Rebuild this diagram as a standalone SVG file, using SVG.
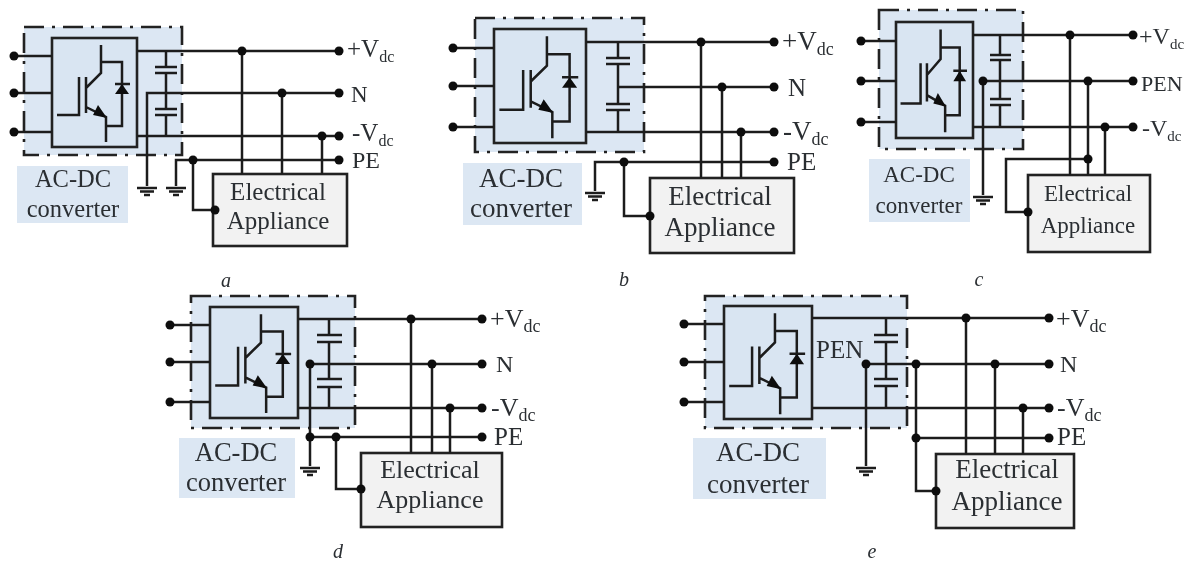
<svg xmlns="http://www.w3.org/2000/svg" width="1190" height="563" viewBox="0 0 1190 563">
<style>
text{font-family:"Liberation Serif","Times New Roman",serif;fill:#2b2f33}
.frame{fill:#dce7f3;stroke:#222;stroke-width:2.6;stroke-dasharray:20 8 3 8}
.igbtbox{fill:#d9e5f2;stroke:#222;stroke-width:2.6}
.lbl{fill:#dce7f3}
.app{fill:#f2f2f2;stroke:#222;stroke-width:2.6}
.w{fill:none;stroke:#1c1c1c;stroke-width:2.5}
.d{fill:#111}
.g{fill:none;stroke:#1c1c1c;stroke-width:2.5;vector-effect:non-scaling-stroke}
.f{fill:#111}
.c{text-anchor:middle}
.cap{font-style:italic;font-size:20px;text-anchor:middle}
</style>
<defs>
<filter id="soft" x="-2%" y="-2%" width="104%" height="104%"><feGaussianBlur stdDeviation="0.45"/></filter>
<g id="igbt">
<path class="g" d="M49 7V35L34 50M49 24H70V88H54M34 69L54 79V104M5 77H27V39M34 39V75M63 46H78"/>
<path class="f" d="M55 80L41 77L46 67ZM70 46L63 56H77Z"/>
</g>
<g id="gnd">
<path class="g" d="M-10 0H10M-7 3.5H7M-3 7H3"/>
</g>
</defs>
<g filter="url(#soft)">
<g id="panel-a-nodes">
<g id="a-converter"><rect class="frame" x="24" y="27" width="158" height="128"/><rect class="igbtbox" x="52" y="38" width="85" height="109"/><use href="#igbt" transform="translate(52,38)"/></g>
<g id="a-label"><rect class="lbl" x="17" y="166" width="111" height="57"/><text class="c" x="73" y="187" font-size="24.5">AC-DC</text><text class="c" x="73" y="217" font-size="24.5">converter</text></g>
<g id="a-appliance"><rect class="app" x="213" y="174" width="134" height="72"/><text class="c" x="278" y="200" font-size="25">Electrical</text><text class="c" x="278" y="229" font-size="25">Appliance</text></g>
<g id="a-vp"><text x="347" y="57" font-size="25">+V<tspan dy="5" font-size="16">dc</tspan></text></g>
<g id="a-n"><text x="351" y="102" font-size="23">N</text></g>
<g id="a-vn"><text x="352" y="141" font-size="25">-V<tspan dy="5" font-size="16">dc</tspan></text></g>
<g id="a-pe"><text x="352" y="168" font-size="24">PE</text></g>
<g id="a-caption"><text class="cap" x="226" y="287">a</text></g>
</g>
<g id="panel-b-nodes">
<g id="b-converter"><rect class="frame" x="475" y="18" width="169" height="134"/><rect class="igbtbox" x="494" y="29" width="92" height="114"/><use href="#igbt" transform="translate(494,29) scale(1.08,1.05)"/></g>
<g id="b-label"><rect class="lbl" x="463" y="163" width="119" height="62"/><text class="c" x="521" y="187" font-size="27">AC-DC</text><text class="c" x="521" y="217" font-size="27">converter</text></g>
<g id="b-appliance"><rect class="app" x="650" y="178" width="144" height="75"/><text class="c" x="720" y="205" font-size="27">Electrical</text><text class="c" x="720" y="236" font-size="27">Appliance</text></g>
<g id="b-vp"><text x="782" y="50" font-size="27">+V<tspan dy="5" font-size="18">dc</tspan></text></g>
<g id="b-n"><text x="788" y="96" font-size="25">N</text></g>
<g id="b-vn"><text x="783" y="140" font-size="27">-V<tspan dy="5" font-size="18">dc</tspan></text></g>
<g id="b-pe"><text x="787" y="170" font-size="25">PE</text></g>
<g id="b-caption"><text class="cap" x="624" y="286">b</text></g>
</g>
<g id="panel-c-nodes">
<g id="c-converter"><rect class="frame" x="879" y="10" width="144" height="139"/><rect class="igbtbox" x="896" y="22" width="77" height="116"/><use href="#igbt" transform="translate(896,22) scale(0.91,1.06)"/></g>
<g id="c-label"><rect class="lbl" x="869" y="159" width="101" height="63"/><text class="c" x="919" y="182" font-size="23">AC-DC</text><text class="c" x="919" y="213" font-size="23">converter</text></g>
<g id="c-appliance"><rect class="app" x="1028" y="175" width="122" height="77"/><text class="c" x="1088" y="201" font-size="23">Electrical</text><text class="c" x="1088" y="233" font-size="23">Appliance</text></g>
<g id="c-vp"><text x="1139" y="44" font-size="24">+V<tspan dy="5" font-size="15">dc</tspan></text></g>
<g id="c-pen"><text x="1141" y="91" font-size="22">PEN</text></g>
<g id="c-vn"><text x="1142" y="136" font-size="24">-V<tspan dy="5" font-size="15">dc</tspan></text></g>
<g id="c-caption"><text class="cap" x="979" y="286">c</text></g>
</g>
<g id="panel-d-nodes">
<g id="d-converter"><rect class="frame" x="191" y="296" width="164" height="132"/><rect class="igbtbox" x="210" y="307" width="88" height="111"/><use href="#igbt" transform="translate(210,307) scale(1.04,1.02)"/></g>
<g id="d-label"><rect class="lbl" x="179" y="438" width="116" height="60"/><text class="c" x="236" y="461" font-size="26.5">AC-DC</text><text class="c" x="236" y="491" font-size="26.5">converter</text></g>
<g id="d-appliance"><rect class="app" x="361" y="453" width="141" height="74"/><text class="c" x="430" y="478" font-size="26">Electrical</text><text class="c" x="430" y="508" font-size="26">Appliance</text></g>
<g id="d-vp"><text x="490" y="327" font-size="26">+V<tspan dy="5" font-size="18">dc</tspan></text></g>
<g id="d-n"><text x="496" y="372" font-size="24">N</text></g>
<g id="d-vn"><text x="491" y="416" font-size="26">-V<tspan dy="5" font-size="18">dc</tspan></text></g>
<g id="d-pe"><text x="494" y="445" font-size="25">PE</text></g>
<g id="d-caption"><text class="cap" x="338" y="558">d</text></g>
</g>
<g id="panel-e-nodes">
<g id="e-converter"><rect class="frame" x="705" y="296" width="202" height="132"/><rect class="igbtbox" x="724" y="306" width="88" height="113"/><use href="#igbt" transform="translate(724,306) scale(1.04,1.04)"/></g>
<g id="e-label"><rect class="lbl" x="693" y="438" width="133" height="61"/><text class="c" x="758" y="461" font-size="27">AC-DC</text><text class="c" x="758" y="493" font-size="27">converter</text></g>
<g id="e-appliance"><rect class="app" x="936" y="454" width="138" height="74"/><text class="c" x="1007" y="478" font-size="27">Electrical</text><text class="c" x="1007" y="510" font-size="27">Appliance</text></g>
<g id="e-pen"><text x="816" y="358" font-size="25">PEN</text></g>
<g id="e-vp"><text x="1056" y="327" font-size="26">+V<tspan dy="5" font-size="18">dc</tspan></text></g>
<g id="e-n"><text x="1060" y="372" font-size="24">N</text></g>
<g id="e-vn"><text x="1057" y="416" font-size="26">-V<tspan dy="5" font-size="18">dc</tspan></text></g>
<g id="e-pe"><text x="1057" y="445" font-size="25">PE</text></g>
<g id="e-caption"><text class="cap" x="872" y="558">e</text></g>
</g>
<g id="connectors">
<g id="a-wires">
<path class="w" d="M14 56H52M14 93H52M14 132H52M137 51H339M137 136H339M339 93H147V186M339 160H176V186M193 160V210H215M242 51V174M282 93V174M322 136V174M166 51V67M166 73V109M166 115V136M155 67H177M155 73H177M155 109H177M155 115H177"/>
<use href="#gnd" transform="translate(147,188)"/><use href="#gnd" transform="translate(176,188)"/>
<g class="d"><circle cx="14" cy="56" r="4.5"/><circle cx="14" cy="93" r="4.5"/><circle cx="14" cy="132" r="4.5"/><circle cx="339" cy="51" r="4.5"/><circle cx="339" cy="93" r="4.5"/><circle cx="339" cy="136" r="4.5"/><circle cx="339" cy="160" r="4.5"/><circle cx="242" cy="51" r="4.5"/><circle cx="282" cy="93" r="4.5"/><circle cx="322" cy="136" r="4.5"/><circle cx="193" cy="160" r="4.5"/><circle cx="215" cy="210" r="4.5"/></g>
</g>
<g id="b-wires">
<path class="w" d="M453 48H494M453 86H494M453 127H494M586 42H774M586 132H774M618 87H774M774 162H595V191M624 162V216H650M701 42V178M722 87V178M741 132V178M618 42V58M618 64V104M618 110V132M606 58H630M606 64H630M606 104H630M606 110H630"/>
<use href="#gnd" transform="translate(595,193)"/>
<g class="d"><circle cx="453" cy="48" r="4.5"/><circle cx="453" cy="86" r="4.5"/><circle cx="453" cy="127" r="4.5"/><circle cx="774" cy="42" r="4.5"/><circle cx="774" cy="87" r="4.5"/><circle cx="774" cy="132" r="4.5"/><circle cx="774" cy="162" r="4.5"/><circle cx="701" cy="42" r="4.5"/><circle cx="722" cy="87" r="4.5"/><circle cx="741" cy="132" r="4.5"/><circle cx="624" cy="162" r="4.5"/><circle cx="650" cy="216" r="4.5"/></g>
</g>
<g id="c-wires">
<path class="w" d="M861 41H896M861 81H896M861 122H896M973 35H1133M973 127H1133M983 81H1133M983 81V195M1070 35V175M1088 81V175M1105 127V175M1088 159H1006V212H1028M1000 35V55M1000 60V99M1000 105V127M990 55H1011M990 60H1011M990 99H1011M990 105H1011"/>
<use href="#gnd" transform="translate(983,197)"/>
<g class="d"><circle cx="861" cy="41" r="4.5"/><circle cx="861" cy="81" r="4.5"/><circle cx="861" cy="122" r="4.5"/><circle cx="1133" cy="35" r="4.5"/><circle cx="1133" cy="81" r="4.5"/><circle cx="1133" cy="127" r="4.5"/><circle cx="983" cy="81" r="4.5"/><circle cx="1070" cy="35" r="4.5"/><circle cx="1088" cy="81" r="4.5"/><circle cx="1105" cy="127" r="4.5"/><circle cx="1088" cy="159" r="4.5"/><circle cx="1028" cy="212" r="4.5"/></g>
</g>
<g id="d-wires">
<path class="w" d="M170 325H210M170 362H210M170 402H210M298 319H482M298 408H482M310 364H482M310 364V466M310 437H482M336 437V489H361M411 319V453M432 364V453M450 408V453M329 319V335M329 342V379M329 387V408M317 335H342M317 342H342M317 379H342M317 387H342"/>
<use href="#gnd" transform="translate(310,468)"/>
<g class="d"><circle cx="170" cy="325" r="4.5"/><circle cx="170" cy="362" r="4.5"/><circle cx="170" cy="402" r="4.5"/><circle cx="482" cy="319" r="4.5"/><circle cx="482" cy="364" r="4.5"/><circle cx="482" cy="408" r="4.5"/><circle cx="482" cy="437" r="4.5"/><circle cx="310" cy="364" r="4.5"/><circle cx="310" cy="437" r="4.5"/><circle cx="336" cy="437" r="4.5"/><circle cx="411" cy="319" r="4.5"/><circle cx="432" cy="364" r="4.5"/><circle cx="450" cy="408" r="4.5"/><circle cx="361" cy="489" r="4.5"/></g>
</g>
<g id="e-wires">
<path class="w" d="M684 324H724M684 362H724M684 402H724M812 318H1049M812 408H1049M866 364H1049M866 364V466M916 364V491H936M916 438H1049M966 318V454M995 364V454M1023 408V454M886 318V335M886 342V379M886 386V408M874 335H898M874 342H898M874 379H898M874 386H898"/>
<use href="#gnd" transform="translate(866,468)"/>
<g class="d"><circle cx="684" cy="324" r="4.5"/><circle cx="684" cy="362" r="4.5"/><circle cx="684" cy="402" r="4.5"/><circle cx="1049" cy="318" r="4.5"/><circle cx="1049" cy="364" r="4.5"/><circle cx="1049" cy="408" r="4.5"/><circle cx="1049" cy="438" r="4.5"/><circle cx="866" cy="364" r="4.5"/><circle cx="916" cy="364" r="4.5"/><circle cx="916" cy="438" r="4.5"/><circle cx="966" cy="318" r="4.5"/><circle cx="995" cy="364" r="4.5"/><circle cx="1023" cy="408" r="4.5"/><circle cx="936" cy="491" r="4.5"/></g>
</g>
</g>
</g>
</svg>
